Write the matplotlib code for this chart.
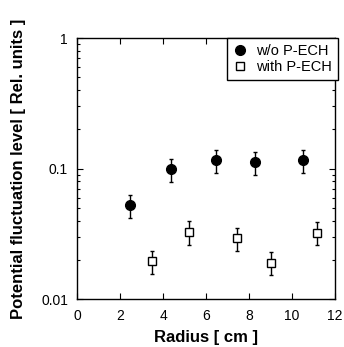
import matplotlib
matplotlib.use('Agg')
import matplotlib.pyplot as plt
import matplotlib.ticker as mticker

# without P-ECH (filled circles)
r_wo = [2.45, 4.38, 6.48, 8.29, 10.52]
lvl_wo = [0.0522, 0.0997, 0.1156, 0.112, 0.1156]
err_wo_hi = [0.0623, 0.119, 0.139, 0.1345, 0.1386]
err_wo_lo = [0.0415, 0.0792, 0.0933, 0.0897, 0.0924]

# with P-ECH (open squares)
r_w = [3.49, 5.19, 7.42, 9.01, 11.14]
lvl_w = [0.01955, 0.0326, 0.0293, 0.0189, 0.0322]
err_w_hi = [0.0234, 0.0394, 0.035, 0.0228, 0.0389]
err_w_lo = [0.01555, 0.0258, 0.0233, 0.0152, 0.0258]

plt.rcParams['font.family'] = ['Liberation Sans', 'DejaVu Sans']

fig = plt.figure(figsize=(3.44, 3.47), dpi=100)
ax = fig.add_axes([0.224, 0.138, 0.75, 0.752])


def yerr(v, lo, hi):
    return [[a - b for a, b in zip(v, lo)], [b - a for a, b in zip(v, hi)]]


ax.errorbar(r_wo, lvl_wo, yerr=yerr(lvl_wo, err_wo_lo, err_wo_hi),
            fmt='o', color='black', ms=7, elinewidth=1, capsize=1.5,
            capthick=1, label='w/o P-ECH')
ax.errorbar(r_w, lvl_w, yerr=yerr(lvl_w, err_w_lo, err_w_hi),
            fmt='s', mfc='white', mec='black', color='black', ms=6,
            mew=1, elinewidth=1, capsize=1.5, capthick=1,
            label='with P-ECH')

ax.set_yscale('log')
ax.set_xlim(0, 12)
ax.set_ylim(0.01, 1)
ax.set_xticks([0, 2, 4, 6, 8, 10, 12])
ax.set_yticks([0.01, 0.1, 1])
ax.yaxis.set_major_formatter(mticker.FuncFormatter(lambda v, p: '%g' % v))
ax.yaxis.set_minor_locator(mticker.LogLocator(base=10, subs=range(2, 10)))
ax.yaxis.set_minor_formatter(mticker.NullFormatter())

ax.tick_params(which='both', direction='in', top=True, right=True,
               labelsize=10, width=0.8)
ax.tick_params(which='major', length=4)
ax.tick_params(which='minor', length=2)
ax.tick_params(axis='x', which='major', pad=7)
ax.tick_params(axis='y', which='major', pad=6.5)
for s in ax.spines.values():
    s.set_linewidth(1)

ax.set_xlabel('Radius [ cm ]', fontsize=12, fontweight='bold', labelpad=5)
ax.set_ylabel('Potential fluctuation level [ Rel. units ]', fontsize=12,
              fontweight='bold', labelpad=11)

handles, labels = ax.get_legend_handles_labels()
handles = [h[0] for h in handles]
leg = ax.legend(handles, labels, loc='upper right', fontsize=10.5,
                frameon=True, fancybox=False, edgecolor='black',
                framealpha=1, borderpad=0.4, handlelength=1.0,
                handletextpad=0.6, labelspacing=0.15,
                bbox_to_anchor=(1.01, 1.0), borderaxespad=0)
leg.get_frame().set_linewidth(1)

fig.savefig('out.png', dpi=100)
